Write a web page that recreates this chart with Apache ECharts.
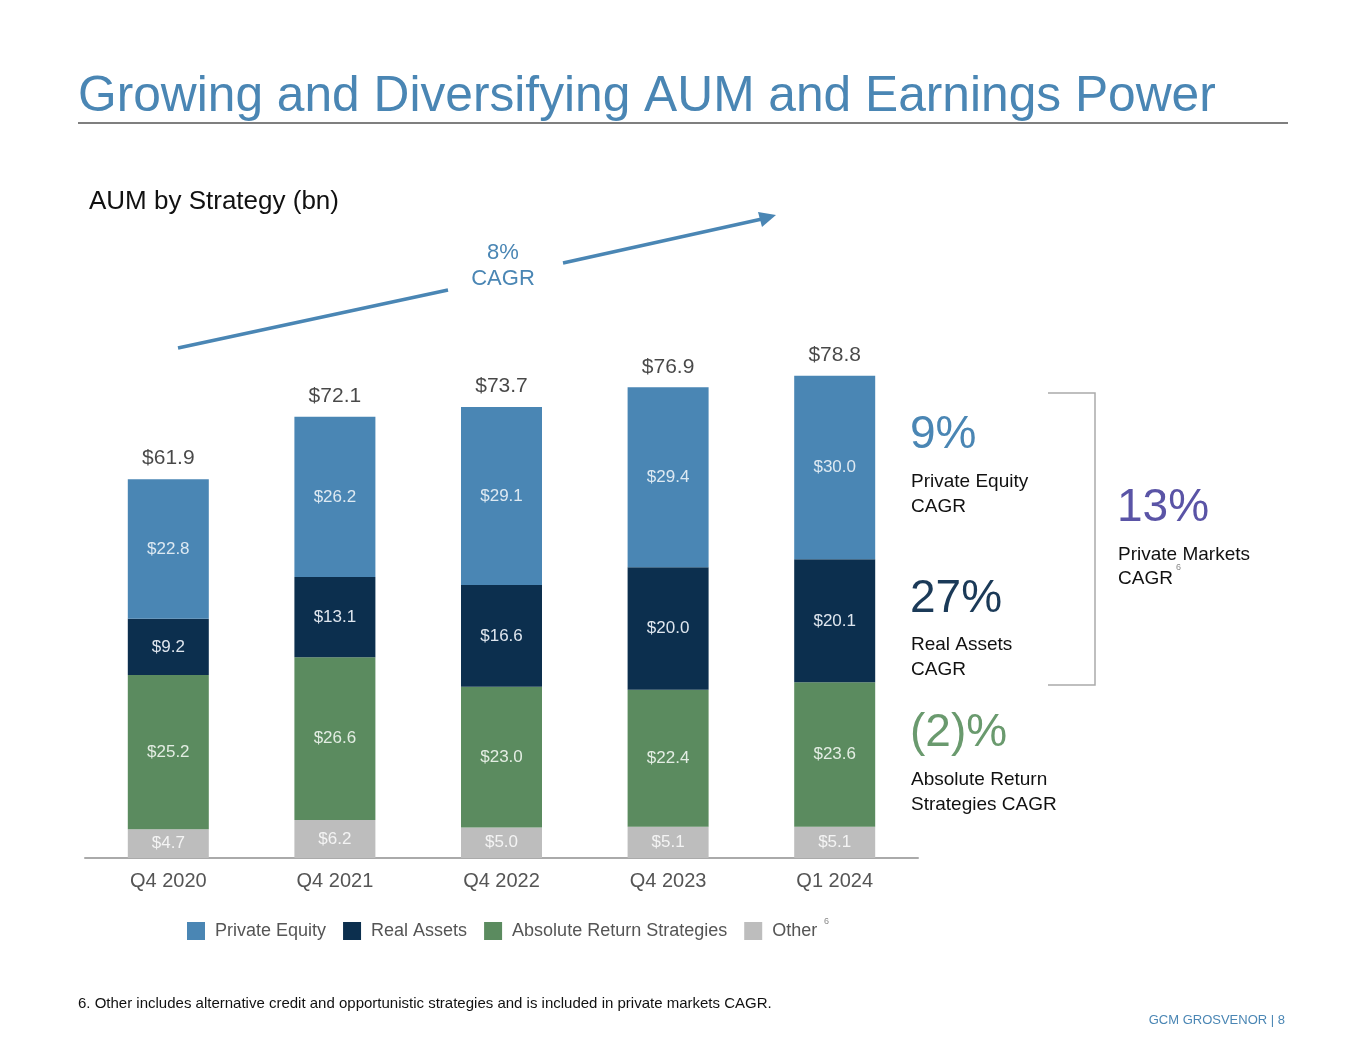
<!DOCTYPE html>
<html>
<head>
<meta charset="utf-8">
<title>AUM by Strategy</title>
<script src="https://cdn.jsdelivr.net/npm/echarts@6/dist/echarts.min.js"></script>
<style>
  html, body { margin: 0; padding: 0; background: #fff; }
  #chart { width: 1365px; height: 1055px; }
</style>
</head>
<body>
<div id="chart"></div>
<script>
var categories = ['Q4 2020', 'Q4 2021', 'Q4 2022', 'Q4 2023', 'Q1 2024'];
var other = [4.7, 6.2, 5.0, 5.1, 5.1];
var absoluteReturn = [25.2, 26.6, 23.0, 22.4, 23.6];
var realAssets = [9.2, 13.1, 16.6, 20.0, 20.1];
var privateEquity = [22.8, 26.2, 29.1, 29.4, 30.0];
var totals = [61.9, 72.1, 73.7, 76.9, 78.8];

var FONT = 'Liberation Sans, Arial, sans-serif';
var BLUE = '#4a86b4';
var NAVY = '#0c2f4e';
var GREEN = '#5b8b5f';
var GREY = '#bdbdbd';

function money(p) {
  return '$' + p.value.toFixed(1);
}

function segment(name, data, color, labelColor) {
  return {
    name: name,
    type: 'bar',
    stack: 'aum',
    barWidth: 81,
    data: data,
    itemStyle: { color: color },
    label: {
      show: true,
      position: 'inside',
      formatter: money,
      color: labelColor,
      fontFamily: FONT,
      fontSize: 17
    }
  };
}

// free text placed by its anchor point
function txt(x, y, s, size, color, align) {
  return {
    type: 'text',
    x: x,
    y: y,
    style: {
      text: s,
      fontFamily: FONT,
      fontSize: size,
      fill: color,
      textAlign: align || 'left',
      textVerticalAlign: 'top'
    }
  };
}

var chart = echarts.init(document.getElementById('chart'));

chart.setOption({
  backgroundColor: '#fff',
  animation: false,
  grid: { left: 85, right: 447, top: 246, bottom: 197 },
  legend: {
    left: 182,
    top: 917,
    itemWidth: 18,
    itemHeight: 18,
    itemGap: 17,
    icon: 'rect',
    data: ['Private Equity', 'Real Assets', 'Absolute Return Strategies', 'Other'],
    textStyle: { fontFamily: FONT, fontSize: 18, color: '#555', padding: [0, 0, 0, 5] }
  },
  xAxis: {
    type: 'category',
    data: categories,
    axisLine: { lineStyle: { color: '#aaa', width: 2 } },
    axisTick: { show: false },
    axisLabel: { fontFamily: FONT, fontSize: 20, color: '#555', margin: 13 }
  },
  yAxis: {
    type: 'value',
    min: 0,
    max: 100,
    show: false
  },
  series: [
    segment('Other', other, GREY, '#f4f4f4'),
    segment('Absolute Return Strategies', absoluteReturn, GREEN, '#e3ede3'),
    segment('Real Assets', realAssets, NAVY, '#dfe6ee'),
    segment('Private Equity', privateEquity, BLUE, '#dde9f2'),
    {
      name: 'Total',
      type: 'scatter',
      symbolSize: 0,
      data: totals,
      label: {
        show: true,
        position: 'top',
        distance: 10,
        formatter: money,
        color: '#1a1a1a',
        fontFamily: FONT,
        fontSize: 21
      },
      z: 5
    }
  ],
  graphic: [
    txt(78, 72, 'Growing and Diversifying AUM and Earnings Power', 49.7, BLUE),
    {
      type: 'line',
      shape: { x1: 78, y1: 123, x2: 1288, y2: 123 },
      style: { stroke: '#555', lineWidth: 1.5 }
    },
    txt(89, 189, 'AUM by Strategy (bn)', 26, '#111'),
    // CAGR arrow
    {
      type: 'line',
      shape: { x1: 178, y1: 348, x2: 448, y2: 290 },
      style: { stroke: BLUE, lineWidth: 3.5 }
    },
    {
      type: 'line',
      shape: { x1: 563, y1: 263, x2: 762, y2: 219 },
      style: { stroke: BLUE, lineWidth: 3.5 }
    },
    {
      type: 'polygon',
      shape: { points: [[776, 215], [758, 212], [762, 227]] },
      style: { fill: BLUE }
    },
    txt(503, 242, '8%', 22, BLUE, 'center'),
    txt(503, 268, 'CAGR', 22, BLUE, 'center'),
    // strategy CAGRs
    txt(910, 412, '9%', 46, BLUE),
    txt(911, 472, 'Private Equity', 19, '#111'),
    txt(911, 497, 'CAGR', 19, '#111'),
    txt(910, 576, '27%', 46, '#1b3a58'),
    txt(911, 635, 'Real Assets', 19, '#111'),
    txt(911, 660, 'CAGR', 19, '#111'),
    txt(910, 710, '(2)%', 46, '#6a9a6e'),
    txt(911, 770, 'Absolute Return', 19, '#111'),
    txt(911, 795, 'Strategies CAGR', 19, '#111'),
    {
      type: 'polyline',
      shape: { points: [[1048, 393], [1095, 393], [1095, 685], [1048, 685]] },
      style: { stroke: '#aaa', lineWidth: 1.5, fill: null }
    },
    txt(1117, 485, '13%', 46, '#5a54a6'),
    txt(1118, 545, 'Private Markets', 19, '#111'),
    txt(1118, 569, 'CAGR', 19, '#111'),
    txt(1176, 563, '6', 9, '#888'),
    txt(824, 917, '6', 9, '#888'),
    txt(78, 996, '6. Other includes alternative credit and opportunistic strategies and is included in private markets CAGR.', 15, '#111'),
    txt(1285, 1014, 'GCM GROSVENOR | 8', 13, BLUE, 'right')
  ]
});
</script>
</body>
</html>
